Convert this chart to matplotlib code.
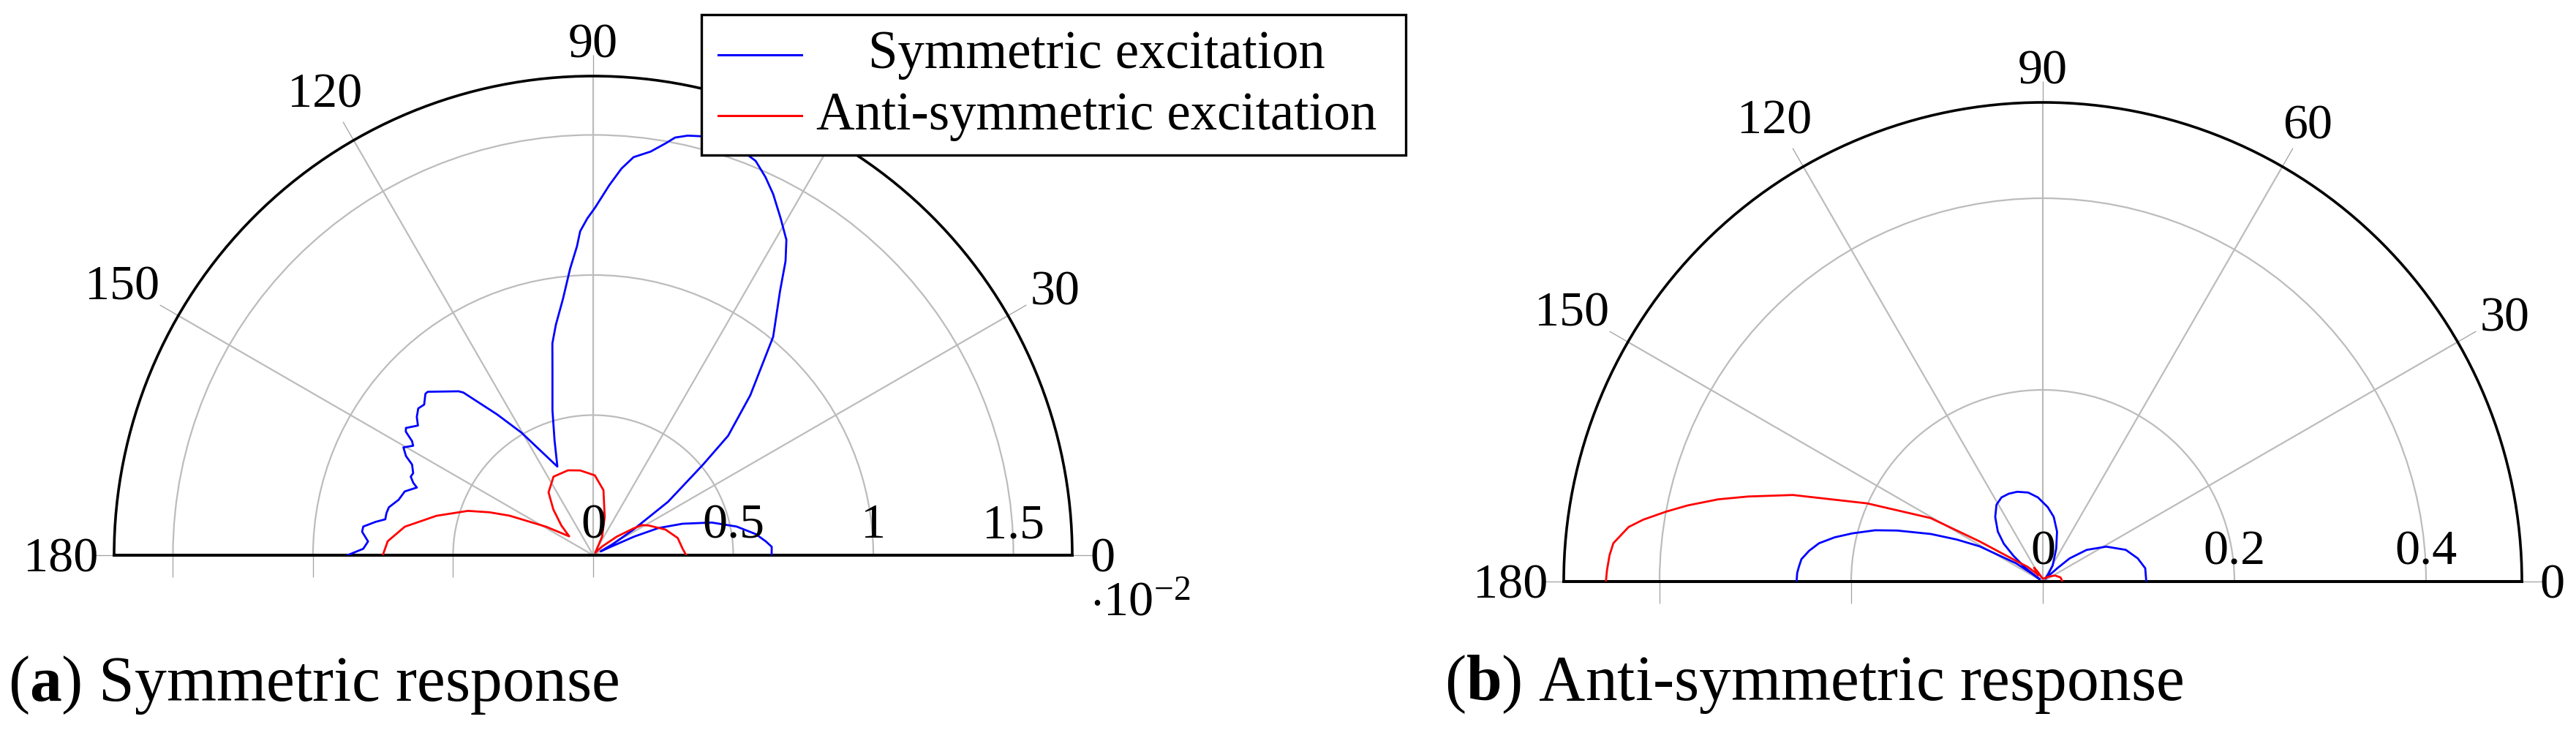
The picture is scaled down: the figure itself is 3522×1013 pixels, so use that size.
import numpy as np
import matplotlib
matplotlib.use("Agg")
import matplotlib.pyplot as plt
from matplotlib.patches import Rectangle
from matplotlib.transforms import ScaledTranslation

plt.rcParams['font.family'] = ['Liberation Serif', 'DejaVu Serif']
plt.rcParams['mathtext.fontset'] = 'custom'
plt.rcParams['mathtext.rm'] = 'Liberation Serif'
plt.rcParams['mathtext.it'] = 'Liberation Serif:italic'
plt.rcParams['mathtext.bf'] = 'Liberation Serif:bold'

# ---------------- data ----------------
legend_labels = ["Symmetric excitation", "Anti-symmetric excitation"]
captions = ["a", "b"]
caption_texts = ["Symmetric response", "Anti-symmetric response"]
angle_ticks = [0, 30, 60, 90, 120, 150, 180]
angle_labels = ["0", "30", "60", "90", "120", "150", "180"]

# (a) symmetric response, radius in units of 1e-2
a_rmax = 1.71
a_rings = [0.5, 1.0, 1.5]
a_ring_labels = ["0", "0.5", "1", "1.5"]
a_sym_theta = [0, 2.7, 4.6, 7.4, 11.3, 15.4, 19.4, 22.6, 24.4, 25.5, 27, 29.5, 32.4, 35.5,
               39.5, 41.5, 45.5, 50.5, 54.7, 56.8, 58.5, 60.9, 63.5, 65.5, 67.6, 70, 72.5,
               75.4, 77.3, 78.9, 80.0, 81.9, 84.2, 85.8, 87.5, 89.7, 91.0, 92.3, 93.0, 94.6,
               96.7, 99.2, 100.9, 102.6, 105.7, 108.6, 112.0, 120.3, 124.3, 128.6, 129.4,
               135.35, 136.1, 138.3, 140.0, 141.9, 143.5, 145.8, 146.6, 147.8, 148.7, 150.4,
               152.1, 153.4, 155.5, 156.7, 158.1, 159.0, 161.3, 164.1, 166.8, 168.5, 170.2,
               171.3, 172.9, 174.2, 176.5, 178.4, 180]
a_sym_r = [0.637, 0.638, 0.618, 0.585, 0.522, 0.439, 0.338, 0.252, 0.161, 0.07, 0.03, 0.08,
           0.168, 0.328, 0.508, 0.643, 0.80, 1.01, 1.154, 1.254, 1.32, 1.376, 1.44, 1.483,
           1.522, 1.54, 1.55, 1.545, 1.535, 1.519, 1.493, 1.455, 1.428, 1.384, 1.322, 1.24,
           1.202, 1.157, 1.104, 1.026, 0.922, 0.833, 0.77, 0.666, 0.537, 0.432, 0.341,
           0.506, 0.608, 0.743, 0.757, 0.830, 0.831, 0.808, 0.815, 0.80, 0.778, 0.808,
           0.801, 0.764, 0.752, 0.779, 0.756, 0.723, 0.706, 0.709, 0.692, 0.674, 0.710,
           0.722, 0.749, 0.753, 0.753, 0.786, 0.827, 0.829, 0.805, 0.821, 0.877]
a_anti_theta = [0, 4.2, 11.5, 19.5, 28.3, 31.6, 33.5, 38.2, 44, 50, 57, 64.4, 73.3, 81, 88.8,
                98.7, 106.5, 116.8, 125.4, 131.1, 137, 141.8, 148.8, 154.7, 157.5, 160.5,
                165.9, 171.4, 176.1, 180]
a_anti_r = [0.332, 0.32, 0.308, 0.274, 0.224, 0.205, 0.174, 0.107, 0.045, 0.012, 0.02, 0.074,
            0.143, 0.235, 0.285, 0.306, 0.316, 0.314, 0.275, 0.216, 0.155, 0.109, 0.196,
            0.33, 0.40, 0.474, 0.577, 0.68, 0.735, 0.751]

# (b) anti-symmetric response
b_rmax = 0.5
b_rings = [0.2, 0.4]
b_ring_labels = ["0", "0.2", "0.4"]
b_sym_theta = [0, 7.4, 13.7, 20.9, 28.8, 35.8, 40.8, 42.5, 44, 48, 54, 58.3, 67.8, 74.1,
               80.4, 86.2, 93.3, 99.3, 105.9, 111.2, 116.2, 121.1, 126.4, 132.0, 135.9,
               138.8, 141.9, 143.0, 143.5, 144.0, 145.7, 150.9, 154.0, 157.0, 160.7, 163.0,
               165.8, 168.0, 170.3, 172.5, 174.7, 176.5, 178.0, 180]
b_sym_r = [0.108, 0.1078, 0.102, 0.0927, 0.0756, 0.0565, 0.037, 0.0207, 0.0099, 0.004,
           0.01, 0.0195, 0.0371, 0.0542, 0.0684, 0.0778, 0.0879, 0.0941, 0.0974, 0.0983,
           0.0978, 0.0936, 0.0837, 0.0702, 0.0567, 0.0406, 0.0226, 0.0063, 0.004, 0.013,
           0.0338, 0.0757, 0.100, 0.127, 0.161, 0.183, 0.205, 0.222, 0.237, 0.246, 0.253,
           0.255, 0.2565, 0.257]
b_anti_theta = [0, 13, 26.4, 40, 60, 90, 110, 118, 122, 126, 130, 136, 142.3, 147.6, 150.5,
                156, 160.9, 163.9, 165.8, 167.9, 169.5, 171.2, 172.5, 174.9, 176.5, 178.5, 180]
b_anti_r = [0.0204, 0.019, 0.0142, 0.008, 0.004, 0.003, 0.006, 0.012, 0.017, 0.008, 0.012,
            0.022, 0.0353, 0.0783, 0.1345, 0.2005, 0.276, 0.32, 0.3496, 0.379, 0.40, 0.422,
            0.436, 0.45, 0.453, 0.455, 0.456]

# ---------------- layout ----------------
W, H = 3522, 1013
DPI = 100
fig = plt.figure(figsize=(W / DPI, H / DPI), dpi=DPI)

BLUE = '#0000ff'
RED = '#ff0000'
GRID = '#bcbcbc'
TICK = '#a0a0a0'
R_PX = 655.0
TICK_FS = 49
label_dist = [696, 729, 725, 702.5, 733, 743, 728]


def px(dx, dy):
    return ScaledTranslation(dx / DPI, dy / DPI, fig.dpi_scale_trans)


def make_panel(center, rmax, rings, series):
    cx, cy = center
    ax = fig.add_axes([(cx - R_PX) / W, (H - cy) / H, 2 * R_PX / W, R_PX / H],
                      projection='polar')
    ax.set_thetamin(0)
    ax.set_thetamax(180)
    ax.set_ylim(0, rmax)
    ax.set_yticks(rings)
    ax.set_yticklabels([])
    ax.set_xticks(np.deg2rad([30, 60, 90, 120, 150]))
    ax.set_xticklabels([])
    ax.tick_params(axis='both', length=0)
    ax.grid(True, color=GRID, linewidth=1.6)
    ax.spines['polar'].set_linewidth(2.6)
    ax.spines['start'].set_linewidth(2.9)
    ax.spines['end'].set_linewidth(2.9)
    for s in ('polar', 'start', 'end'):
        ax.spines[s].set_color('black')

    for th, rr, col in series:
        ax.plot(np.deg2rad(th), rr, color=col, lw=2.0, zorder=3)

    # outer angular ticks
    ext = rmax * (1 + 29 / R_PX)
    for a in angle_ticks:
        t = np.deg2rad(a)
        ax.plot([t, t], [rmax, ext], color=TICK, lw=0.9, clip_on=False,
                solid_capstyle='butt', zorder=1)
    # radial ticks below the baseline on the 180 side
    ax.plot(np.full(len(rings) + 1, np.pi), [0] + list(rings), ls='none', marker=3,
            ms=21.6, mec=TICK, mew=0.9, clip_on=False, zorder=1)
    return ax


def fit(ax, center, rmax):
    cx, cy = center
    for _ in range(4):
        fig.canvas.draw()
        c = ax.transData.transform((0, 0))
        e = ax.transData.transform((0, rmax))
        Ra = e[0] - c[0]
        pos = ax.get_position()
        x0, y0, w, h = pos.x0 * W, pos.y0 * H, pos.width * W, pos.height * H
        u = (c[0] - x0) / w
        v = (c[1] - y0) / h
        k = R_PX / Ra
        nw, nh = w * k, h * k
        nx0 = cx - u * nw
        ny0 = (H - cy) - v * nh
        ax.set_position([nx0 / W, ny0 / H, nw / W, nh / H], which='both')


def add_labels(ax, rings, ring_labels, hidden=()):
    digit_h = 0.66 * TICK_FS * DPI / 72
    for a, lab, d in zip(angle_ticks, angle_labels, label_dist):
        if lab in hidden:
            continue
        t = np.deg2rad(a)
        dx = d * np.cos(t)
        dy = d * np.sin(t) - digit_h / 2
        ax.text(0, 0, lab, fontsize=TICK_FS, ha='center', va='baseline',
                transform=ax.transData + px(dx, dy), clip_on=False)
    for r, lab in zip([0] + list(rings), ring_labels):
        ax.text(0, r, lab, fontsize=TICK_FS, ha='center', va='baseline',
                transform=ax.transData + px(0, 24), clip_on=False, zorder=4)


centers = [(811, 759), (2793, 795)]
ax_a = make_panel(centers[0], a_rmax, a_rings,
                  [(a_sym_theta, a_sym_r, BLUE), (a_anti_theta, a_anti_r, RED)])
ax_b = make_panel(centers[1], b_rmax, b_rings,
                  [(b_sym_theta, b_sym_r, BLUE), (b_anti_theta, b_anti_r, RED)])
fit(ax_a, centers[0], a_rmax)
fit(ax_b, centers[1], b_rmax)
# in panel (a) the "60" label sits under the legend box
add_labels(ax_a, a_rings, a_ring_labels, hidden=("60",))
add_labels(ax_b, b_rings, b_ring_labels)

# overlay in pixel coordinates for legend, captions and multiplier
ov = fig.add_axes([0, 0, 1, 1], zorder=10)
ov.set_xlim(0, W)
ov.set_ylim(H, 0)
ov.axis('off')

ov.add_patch(Rectangle((959, 20), 963, 192, facecolor='white', edgecolor='black',
                       linewidth=2.4, zorder=1))
ov.plot([982, 1096], [75, 75], color=BLUE, lw=2.2, zorder=2)
ov.plot([982, 1096], [158, 158], color=RED, lw=2.2, zorder=2)
ov.text(1499, 93, legend_labels[0], fontsize=52.5, ha='center', va='baseline', zorder=3)
ov.text(1499, 176.7, legend_labels[1], fontsize=52.5, ha='center', va='baseline', zorder=3)

ov.text(1490, 842, r'$\cdot10^{-2}$', fontsize=TICK_FS, ha='left', va='baseline')

ov.text(11, 958, r'($\mathbf{%s}$) %s' % (captions[0], caption_texts[0]),
        fontsize=63, ha='left', va='baseline')
ov.text(1975, 957, r'($\mathbf{%s}$) %s' % (captions[1], caption_texts[1]),
        fontsize=63, ha='left', va='baseline')

fig.savefig('out.png', dpi=DPI)
